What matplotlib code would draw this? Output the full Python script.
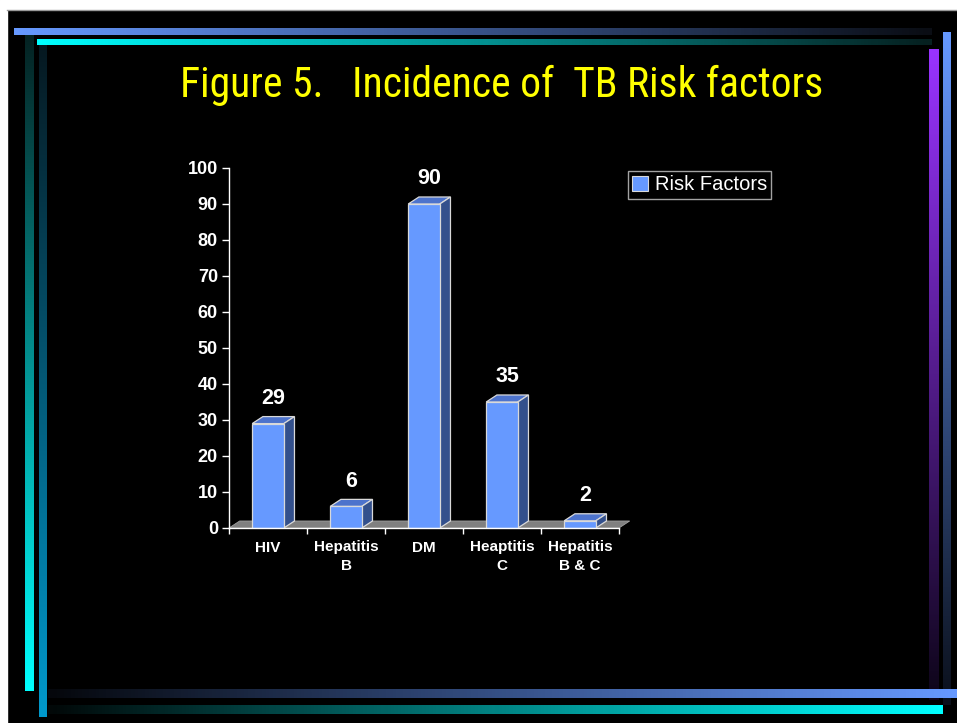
import numpy as np
import matplotlib
matplotlib.use("Agg")
import matplotlib.pyplot as plt
from matplotlib.colors import LinearSegmentedColormap
from matplotlib.patches import Polygon, Rectangle

categories = ["HIV", "Hepatitis\nB", "DM", "Heaptitis\nC", "Hepatitis\nB & C"]
values = [29, 6, 90, 35, 2]
series_name = "Risk Factors"
title = "Figure 5.   Incidence of  TB Risk factors"
y_ticks = list(range(0, 101, 10))

W, H = 957, 723
FRONT = "#6699ff"
SIDE = "#33508c"
TOP = "#4d73cc"
EDGE = "#d9d9d9"

plt.rcParams["font.family"] = ["Liberation Sans", "DejaVu Sans"]

fig = plt.figure(figsize=(W / 100, H / 100), dpi=100, facecolor="black")

# slide decoration, in pixel coordinates
bg = fig.add_axes([0, 0, 1, 1], zorder=0)
bg.axis("off")
bg.add_patch(Rectangle((0, 0), W, 9, color="white"))
bg.add_patch(Rectangle((0, 0), 7, H, color="white"))
bg.plot([7, W], [9.5, 9.5], color="#999999", lw=1)


def grad(x0, x1, y0, y1, c_start, c_end, vertical=False):
    cmap = LinearSegmentedColormap.from_list("g", [c_start, c_end])
    ramp = np.linspace(0, 1, 256)
    img = ramp[:, None] if vertical else ramp[None, :]
    bg.imshow(img, cmap=cmap, extent=(x0, x1, y1, y0), aspect="auto",
              interpolation="bilinear")


grad(14, 932, 28, 35, "#6699ff", "#0a0d14")
grad(37, 932, 39, 45, "#00ffff", "#062020")
grad(25, 34, 35, 691, "#052222", "#00ffff", vertical=True)
grad(39, 47, 45, 717, "#061820", "#0099cc", vertical=True)
grad(929, 939, 49, 700, "#9933ff", "#0d0518", vertical=True)
grad(943, 951, 32, 705, "#6699ff", "#0a0f1a", vertical=True)
grad(48, 957, 689, 698, "#05070c", "#6699ff")
grad(48, 943, 705, 714, "#020808", "#00ffff")
bg.set_xlim(0, W)
bg.set_ylim(H, 0)

fig.text(502 / W, 1 - 97 / H, title, color="#ffff00", fontsize=30,
         family=["Roboto Condensed", "DejaVu Sans"], ha="center", va="baseline")

# chart
ax = fig.add_axes([229 / W, 195 / H, 390 / W, 360 / H], zorder=1)
ax.set_facecolor("none")
ax.set_xlim(0, len(values))
ax.set_ylim(0, 100)

dx, dy = 0.137, 1.95
bw = 0.405
n = len(values)
ax.add_patch(Polygon([(0, 0), (n, 0), (n + dx, dy), (dx, dy)], closed=True,
                     facecolor="#808080", edgecolor="#a0a0a0", lw=0.6,
                     clip_on=False, zorder=1))

xs = np.arange(n) + 0.5
ax.bar(xs, values, width=bw, color=FRONT, edgecolor=EDGE, lw=0.9, zorder=3)
for x, v in zip(xs, values):
    x0, x1 = x - bw / 2, x + bw / 2
    ax.add_patch(Polygon([(x0, v), (x0 + dx, v + dy), (x1 + dx, v + dy), (x1, v)],
                         closed=True, facecolor=TOP, edgecolor=EDGE, lw=0.9,
                         clip_on=False, zorder=2))
    ax.add_patch(Polygon([(x1, 0), (x1 + dx, dy), (x1 + dx, v + dy), (x1, v)],
                         closed=True, facecolor=SIDE, edgecolor=EDGE, lw=0.9,
                         clip_on=False, zorder=2))
    ax.text(x + dx / 2, v + dy + 5.0, str(v), color="white", fontsize=15.5,
            fontweight="bold", ha="center", va="center")

for s in ["top", "right"]:
    ax.spines[s].set_visible(False)
for s in ["left", "bottom"]:
    ax.spines[s].set_color("white")
    ax.spines[s].set_linewidth(1)
    ax.spines[s].set_zorder(4)

ax.set_yticks(y_ticks)
ax.tick_params(axis="y", colors="white", length=5, width=1, labelsize=13, pad=3)
for lab in ax.get_yticklabels():
    lab.set_fontweight("bold")

ax.set_xticks(np.arange(n + 1))
ax.set_xticklabels([])
ax.tick_params(axis="x", which="major", colors="white", length=4, width=1)
ax.set_xticks(xs, minor=True)
ax.set_xticklabels(categories, minor=True, fontsize=11, fontweight="bold",
                   color="white", linespacing=1.4)
ax.tick_params(axis="x", which="minor", length=0, pad=9)

handle = Rectangle((0, 0), 1, 1, facecolor=FRONT, edgecolor=EDGE, lw=0.8)
leg = fig.legend([handle], [series_name], loc="upper left",
                 bbox_to_anchor=(628 / W, 1 - 171 / H), fontsize=14.5,
                 frameon=True, fancybox=False, handlelength=0.75,
                 handleheight=0.75, handletextpad=0.35, borderpad=0.22,
                 borderaxespad=0)
leg.get_frame().set_facecolor("black")
leg.get_frame().set_edgecolor("#cccccc")
leg.get_frame().set_linewidth(1)
for t in leg.get_texts():
    t.set_color("white")

fig.savefig("out.png", dpi=100, facecolor="black")
